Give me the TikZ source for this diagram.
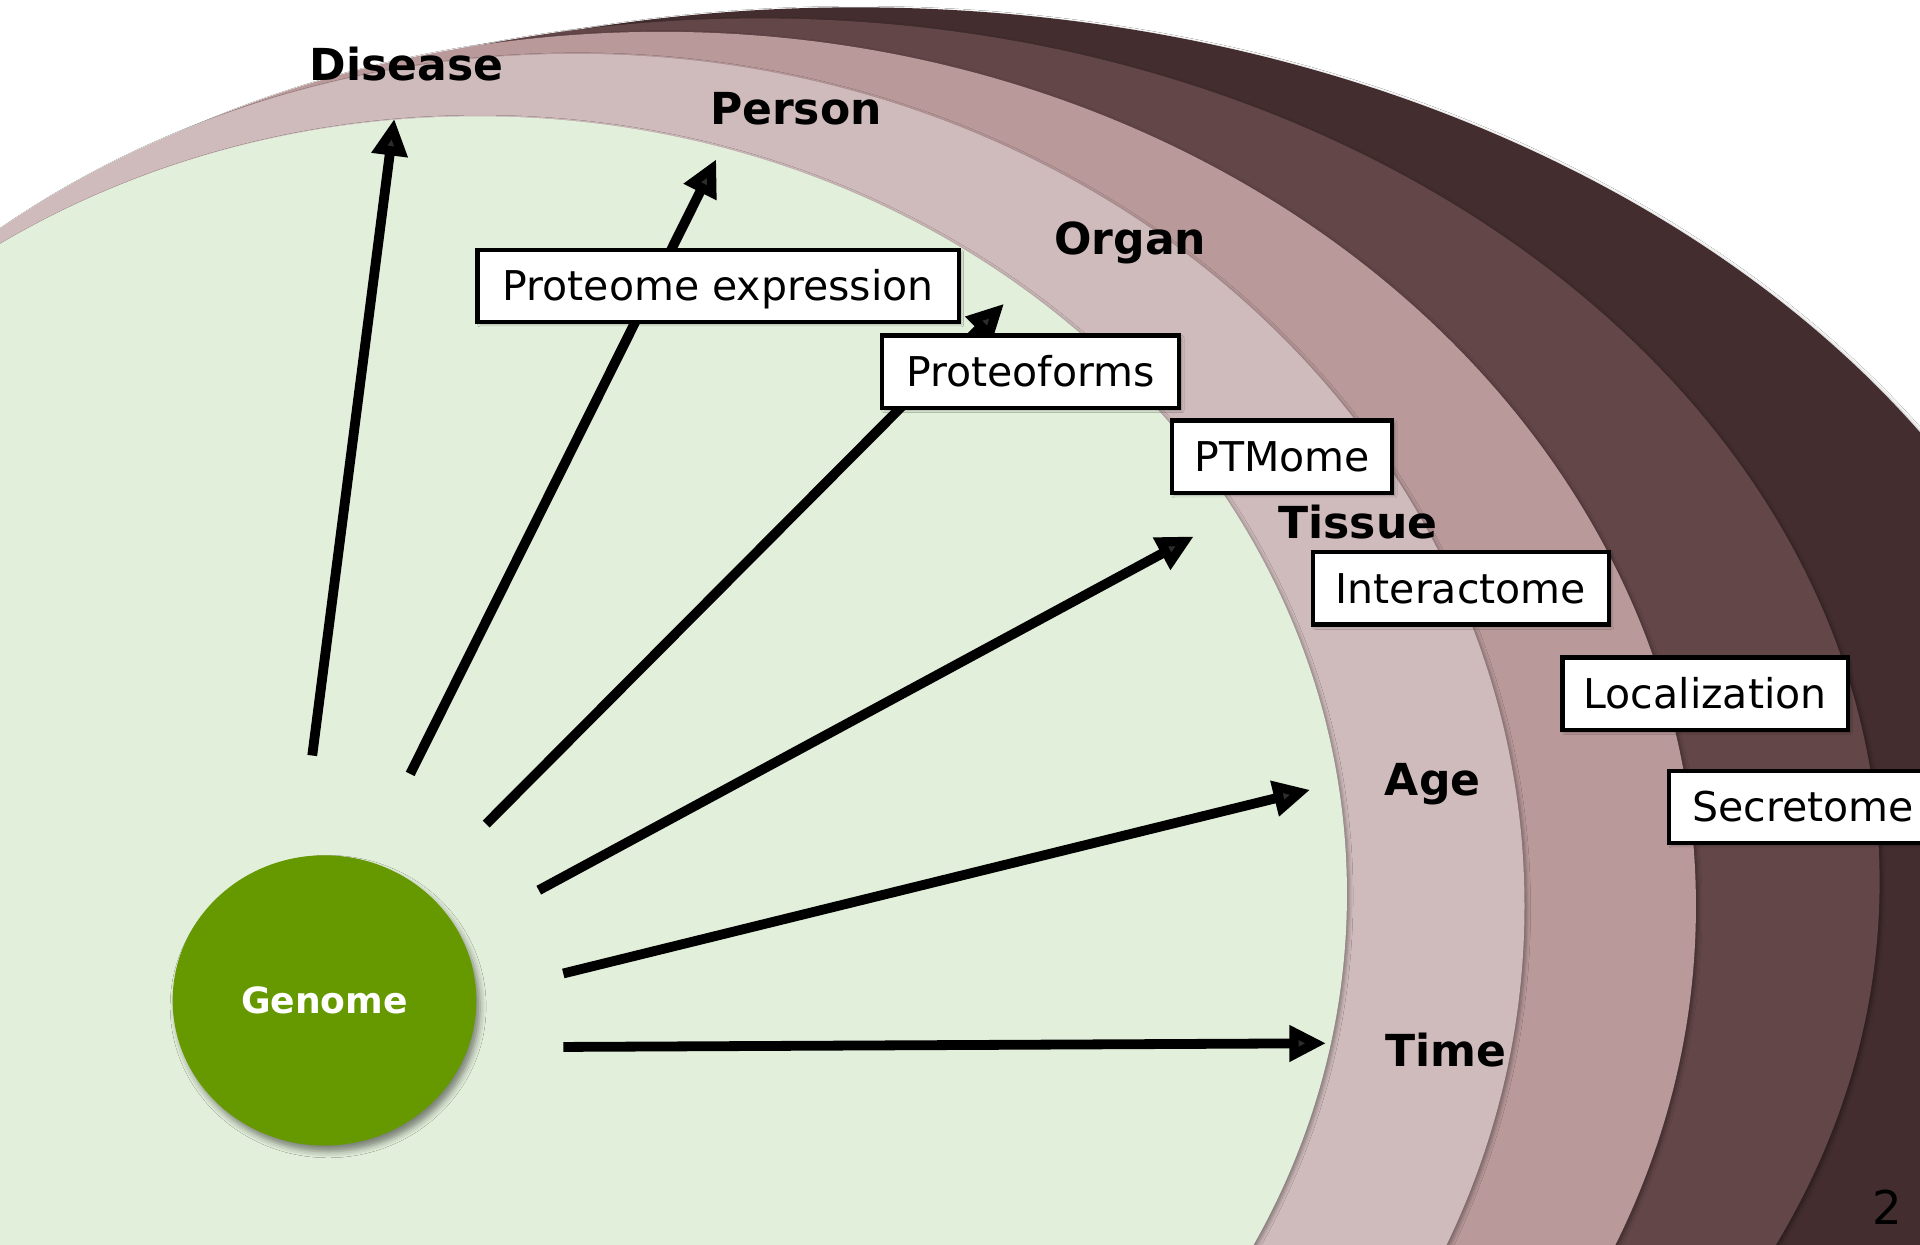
\documentclass[tikz,border=0pt]{standalone}
\usepackage{fontspec}
\setmainfont{DejaVu Sans}
\usetikzlibrary{arrows.meta,shadows.blur,shapes.geometric}

\definecolor{leafbg}{HTML}{E2EFDA}
\definecolor{rosepale}{HTML}{CFBBBC}
\definecolor{rosemid}{HTML}{B9999A}
\definecolor{browndark}{HTML}{634648}
\definecolor{browndeep}{HTML}{432D2F}
\definecolor{genomegreen}{HTML}{669900}

\tikzset{
  ring/.style={blur shadow={shadow xshift=2pt,shadow yshift=-2pt,
      shadow blur radius=3pt,shadow opacity=35}},
  facet/.style={draw=black,line width=3.5pt,fill=white,inner sep=0pt,
      minimum height=59pt,text height=24.4pt,text depth=0pt,
      font=\fontsize{33.5}{40}\selectfont,
      blur shadow={shadow xshift=2pt,shadow yshift=-2pt,
      shadow blur radius=2pt,shadow opacity=30}},
  level/.style={anchor=base,inner sep=0pt,
      font=\fontsize{36}{42}\selectfont\bfseries},
  spoke/.style={line width=8pt,-{Triangle[length=30pt,width=28pt]}}
}

\begin{document}
\begin{tikzpicture}[x=1pt,y=-1pt]
\useasboundingbox (0,0) rectangle (1568,1016);
\clip (0,0) rectangle (1568,1016);
\fill[white] (0,0) rectangle (1568,1016);

% nested layers, outermost first
\fill[browndeep,ring] (699,760) ellipse [x radius=1032,y radius=754];
\fill[browndark,ring] (620,720) ellipse [x radius=915,y radius=705];
\fill[rosemid,ring]   (540,740) ellipse [x radius=845,y radius=714];
\fill[rosepale,ring]  (470,740) ellipse [x radius=775,y radius=696];
\fill[leafbg,ring]    (390,730) ellipse [x radius=710,y radius=635];

% genome core
\node[ellipse,fill=genomegreen,minimum width=248pt,minimum height=237pt,
  inner sep=0pt,text=white,font=\fontsize{29.5}{35}\selectfont\bfseries,
  blur shadow={shadow xshift=3pt,shadow yshift=-5pt,shadow blur radius=5pt,
  shadow opacity=45}]
  (genome) at (265,817) {Genome};

% spokes from the genome outwards
\coordinate (s1) at (255,617);  \coordinate (e1) at (322,97);
\coordinate (s2) at (335,632);  \coordinate (e2) at (585,130);
\coordinate (s3) at (397,673);  \coordinate (e3) at (820,248);
\coordinate (s4) at (440,727);  \coordinate (e4) at (975,438);
\coordinate (s5) at (460,795);  \coordinate (e5) at (1070,645);
\coordinate (s6) at (460,855);  \coordinate (e6) at (1083,852);
\draw[spoke] (s1) -- (e1);
\draw[spoke] (s2) -- (e2);
\draw[spoke] (s3) -- (e3);
\draw[spoke] (s4) -- (e4);
\draw[spoke] (s5) -- (e5);
\draw[spoke] (s6) -- (e6);

% proteome facets
\node[facet,minimum width=393pt] (expr)  at (586.5,233.5) {Proteome expression};
\node[facet,minimum width=243pt] (forms) at (841.5,303.5) {Proteoforms};
\node[facet,minimum width=180pt] (ptm)   at (1047,373)    {PTMome};
\node[facet,minimum width=242pt] (inter) at (1193,480.5)  {Interactome};
\node[facet,minimum width=233pt] (local) at (1392.5,566.5){Localization};
\node[facet,minimum width=219pt] (secr)  at (1472.5,659)  {Secretome};

% level labels
\node[level] (disease) at (332,66)  {Disease};
\node[level] (person)  at (650,102) {Person};
\node[level] (organ)   at (923,208) {Organ};
\node[level] (tissue)  at (1109,440){Tissue};
\node[level] (age)     at (1170,650){Age};
\node[level] (time)    at (1181,871){Time};

% page number
\node[inner sep=0pt,font=\fontsize{38}{44}\selectfont] (pagenum) at (1541,986) {2};
\end{tikzpicture}
\end{document}
